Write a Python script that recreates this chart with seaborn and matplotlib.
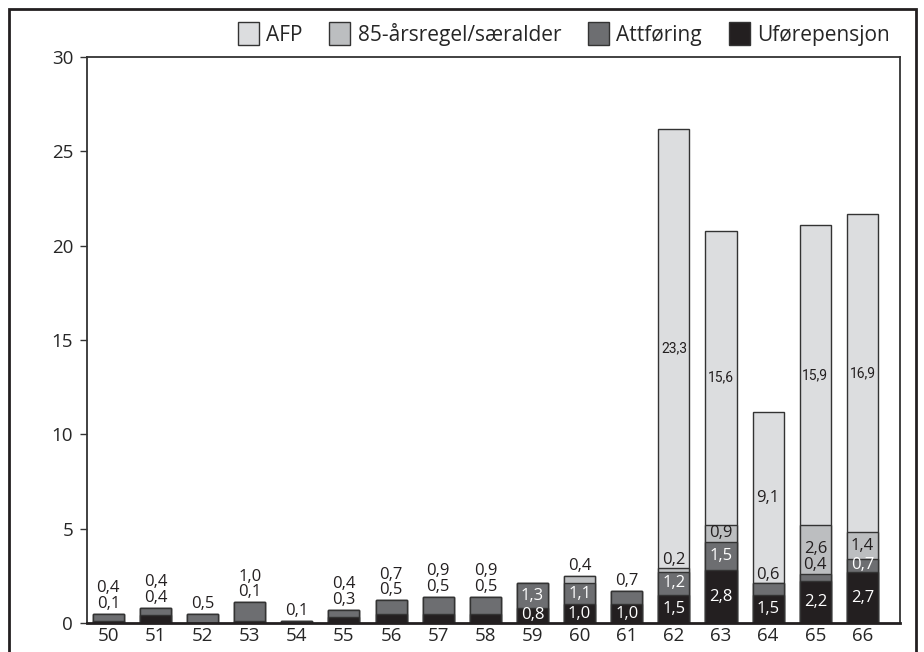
import matplotlib.pyplot as plt
import numpy as np
import pandas as pd
import seaborn as sns
from matplotlib.patches import Patch, Rectangle

ages = [str(a) for a in range(50, 67)]
ufore = [0.1, 0.4, 0.0, 0.1, 0.0, 0.3, 0.5, 0.5, 0.5, 0.8, 1.0, 1.0, 1.5, 2.8, 1.5, 2.2, 2.7]
attforing = [0.4, 0.4, 0.5, 1.0, 0.1, 0.4, 0.7, 0.9, 0.9, 1.3, 1.1, 0.7, 1.2, 1.5, 0.6, 0.4, 0.7]
regel85 = [0.0, 0.0, 0.0, 0.0, 0.0, 0.0, 0.0, 0.0, 0.0, 0.0, 0.4, 0.0, 0.2, 0.9, 0.0, 2.6, 1.4]
afp = [0.0] * 12 + [23.3, 15.6, 9.1, 15.9, 16.9]

series = ["Uførepensjon", "Attføring", "85-årsregel/særalder", "AFP"]
colours = ["#231f20", "#6d6e71", "#bcbec0", "#dcdddf"]
legend_order = ["AFP", "85-årsregel/særalder", "Attføring", "Uførepensjon"]

sns.set_theme(style="white")
plt.rcParams["font.family"] = ["Open Sans", "DejaVu Sans"]

values = np.array([ufore, attforing, regel85, afp])
cum = values.cumsum(axis=0)
df = pd.DataFrame(cum.T, columns=series)
df["age"] = ages

fig = plt.figure(figsize=(9.24, 6.52), dpi=100)
ax = fig.add_axes([0.0942, 0.0445, 0.880, 0.868])

# stacked bars: draw cumulative totals from the top segment down
edge = "#333333"
for name, col in reversed(list(zip(series, colours))):
    sns.barplot(data=df, x="age", y=name, order=ages, color=col, saturation=1,
                width=0.66, edgecolor=edge, linewidth=1.0, ax=ax)


def fmt(v):
    return f"{v:.1f}".replace(".", ",")


for i in range(len(ages)):
    total = cum[-1, i]
    stack_y = total + 0.1
    above = False
    inside_min = 0.65 if total > 5 else 0.8
    for k in range(len(series)):
        v = values[k, i]
        if v == 0:
            continue
        lo, hi = cum[k, i] - v, cum[k, i]
        if not above and v >= inside_min:
            kw = dict(fontsize=12)
            if v >= 10:
                kw = dict(fontsize=10, family=["Roboto", "DejaVu Sans"])
            ax.text(i, (lo + hi) / 2, fmt(v), ha="center", va="center",
                    color="white" if k < 2 else "#231f20", **kw)
        elif total < 5:
            above = True
            ax.text(i, stack_y, fmt(v), ha="center", va="bottom", fontsize=12,
                    color="#231f20")
            stack_y += 0.84
        else:
            ax.text(i, hi + 0.03, fmt(v), ha="center", va="bottom", fontsize=12,
                    color="#231f20")

ax.set_xlim(-0.45, 16.8)
ax.set_ylim(0, 30)
ax.set_yticks([0, 5, 10, 15, 20, 25, 30])
ax.set_xlabel("")
ax.set_ylabel("")
ax.tick_params(axis="y", length=5, width=1, color="#333333", labelsize=13.5, pad=5, left=True)
ax.tick_params(axis="x", length=0, labelsize=13.5, pad=3)
for s in ["left", "top", "right"]:
    ax.spines[s].set_color("#333333")
    ax.spines[s].set_linewidth(1.3)
ax.spines["bottom"].set_color("#231f20")
ax.spines["bottom"].set_linewidth(2)

handles = [Patch(facecolor=colours[series.index(n)], edgecolor=edge, linewidth=1) for n in legend_order]
fig.legend(handles, legend_order, loc="center right", bbox_to_anchor=(0.972, 0.948),
           ncol=4, frameon=False, fontsize=15, handlelength=1.0, handleheight=1.3,
           handletextpad=0.35, columnspacing=1.3, borderaxespad=0)

fig.patches.append(Rectangle((9 / 924, -0.01), 907 / 924, 1 - 9 / 652 + 0.01,
                             transform=fig.transFigure, fill=False, edgecolor="#231f20",
                             linewidth=2, clip_on=False))

fig.savefig("out.png", dpi=100)
